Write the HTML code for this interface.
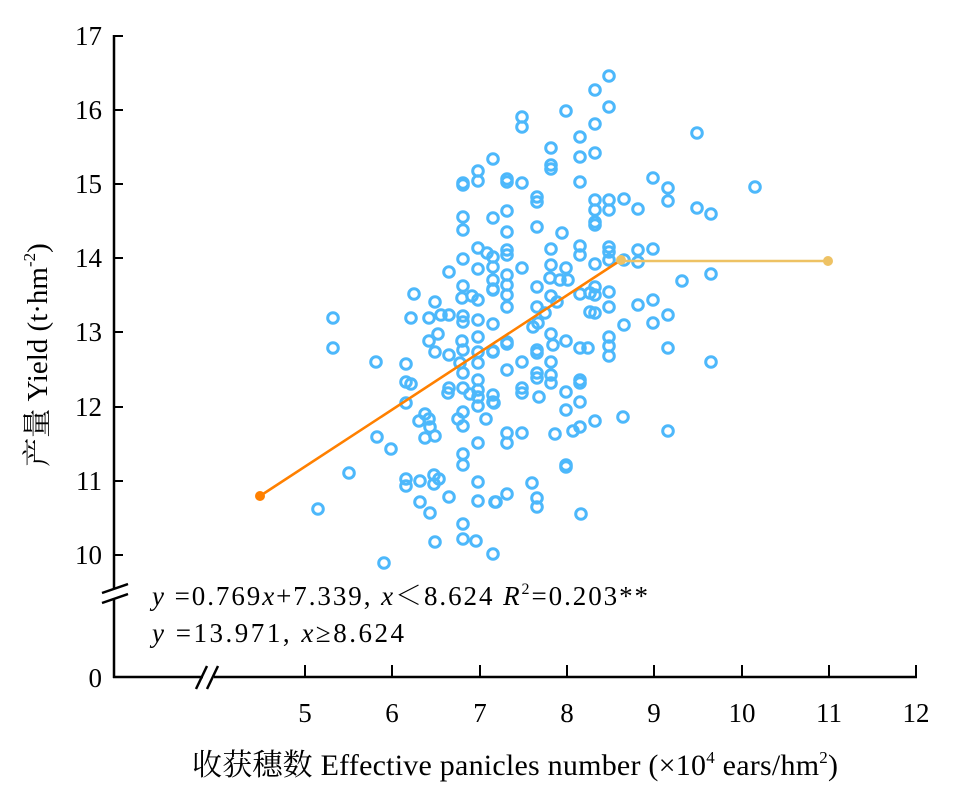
<!DOCTYPE html>
<html><head><meta charset="utf-8"><style>
html,body{margin:0;padding:0;background:#fff}
svg text{font-family:"Liberation Serif","Noto Serif CJK SC",serif;fill:#000}
</style></head><body>
<svg width="966" height="799" viewBox="0 0 966 799" xmlns="http://www.w3.org/2000/svg">
<g stroke="#000" stroke-width="2.5" fill="none">
<line x1="114" y1="35" x2="114" y2="589"/>
<line x1="114" y1="598" x2="114" y2="678"/>
<line x1="113" y1="677" x2="203" y2="677"/>
<line x1="214" y1="677" x2="917" y2="677"/>
<line x1="102" y1="593" x2="128" y2="584"/>
<line x1="102" y1="603" x2="128" y2="594"/>
<line x1="196" y1="689" x2="207" y2="666"/>
<line x1="207" y1="689" x2="218" y2="666"/>
</g>
<g stroke="#000" stroke-width="2">
<line x1="114" y1="36" x2="123" y2="36"/><line x1="114" y1="110" x2="123" y2="110"/>
<line x1="114" y1="184" x2="123" y2="184"/><line x1="114" y1="258" x2="123" y2="258"/>
<line x1="114" y1="332" x2="123" y2="332"/><line x1="114" y1="407" x2="123" y2="407"/>
<line x1="114" y1="481" x2="123" y2="481"/><line x1="114" y1="555" x2="123" y2="555"/>
<line x1="305" y1="677" x2="305" y2="665"/><line x1="392" y1="677" x2="392" y2="665"/>
<line x1="480" y1="677" x2="480" y2="665"/><line x1="567" y1="677" x2="567" y2="665"/>
<line x1="654" y1="677" x2="654" y2="665"/><line x1="742" y1="677" x2="742" y2="665"/>
<line x1="829" y1="677" x2="829" y2="665"/><line x1="916" y1="677" x2="916" y2="665"/>
</g>
<g font-size="27" text-anchor="end">
<text x="102" y="45">17</text><text x="102" y="119">16</text><text x="102" y="193">15</text>
<text x="102" y="267">14</text><text x="102" y="341">13</text><text x="102" y="416">12</text>
<text x="102" y="490">11</text><text x="102" y="564">10</text><text x="102" y="687">0</text>
</g>
<g font-size="27" text-anchor="middle">
<text x="305" y="722">5</text><text x="392" y="722">6</text><text x="480" y="722">7</text>
<text x="567" y="722">8</text><text x="654" y="722">9</text><text x="742" y="722">10</text>
<text x="829" y="722">11</text><text x="916" y="722">12</text>
</g>
<text x="192" y="775" font-size="30" textLength="646" lengthAdjust="spacing">收获穗数 Effective panicles number (×10<tspan font-size="17" dy="-12">4</tspan><tspan dy="12"> ears/hm</tspan><tspan font-size="17" dy="-12">2</tspan><tspan dy="12">)</tspan></text>
<text transform="translate(47,355) rotate(-90)" font-size="29" text-anchor="middle">产量 Yield (t·hm<tspan font-size="17" dy="-12">-2</tspan><tspan dy="12">)</tspan></text>
<text x="152" y="605" font-size="27" textLength="496" lengthAdjust="spacing"><tspan font-style="italic">y</tspan> =0.769<tspan font-style="italic">x</tspan>+7.339, <tspan font-style="italic">x</tspan>＜8.624  <tspan font-style="italic">R</tspan><tspan font-size="16" dy="-11">2</tspan><tspan dy="11">=0.203**</tspan></text>
<text x="152" y="642" font-size="27" textLength="252" lengthAdjust="spacing"><tspan font-style="italic">y</tspan> =13.971, <tspan font-style="italic">x</tspan>≥8.624</text>
<g id="pts" fill="none" stroke="#4db8fb" stroke-width="3"></g>
<line x1="260" y1="496" x2="621" y2="260" stroke="#ff8000" stroke-width="2.6"/>
<line x1="621" y1="261" x2="828" y2="261" stroke="#eec264" stroke-width="2.6"/>
<circle cx="260" cy="496" r="5" fill="#ff8000"/>
<circle cx="621" cy="260" r="5" fill="#eec264"/>
<circle cx="828" cy="261" r="5" fill="#eec264"/>
</svg>
<script>
var p=[[493,159],[478,171],[463,183],[463,185],[478,181],[463,217],[493,218],[463,230],[478,248],[487,253],[493,257],[493,267],[463,259],[449,272],[478,269],[493,280],[493,289],[414,294],[435,302],[463,286],[462,298],[472,296],[478,300],[333,318],[411,318],[429,318],[441,315],[449,315],[463,316],[463,322],[478,320],[493,324],[333,348],[438,334],[429,341],[435,352],[449,355],[462,341],[463,350],[478,337],[478,352],[493,352],[376,362],[406,364],[460,363],[463,373],[478,363],[406,382],[411,384],[449,388],[448,393],[463,388],[470,394],[478,380],[478,390],[478,397],[478,406],[493,395],[493,402],[406,403],[425,414],[429,419],[419,421],[430,427],[425,438],[435,436],[458,419],[463,412],[463,426],[486,419],[377,437],[391,449],[478,443],[463,454],[463,465],[349,473],[406,479],[406,486],[420,481],[434,475],[439,479],[434,484],[478,482],[449,497],[420,502],[430,513],[478,501],[495,502],[318,509],[463,524],[463,539],[476,541],[435,542],[493,554],[384,563],
[609,76],[595,90],[609,107],[566,111],[522,117],[522,127],[595,124],[580,137],[697,133],[551,148],[580,157],[595,153],[551,165],[551,169],[507,179],[507,182],[522,183],[580,182],[653,178],[668,188],[668,201],[755,187],[537,197],[537,202],[595,200],[595,210],[609,200],[609,210],[624,199],[638,209],[697,208],[711,214],[507,211],[595,222],[595,225],[537,227],[507,232],[562,233],[507,250],[507,255],[551,249],[580,246],[580,255],[609,247],[609,252],[609,260],[638,250],[653,249],[638,262],[624,260],[595,264],[522,268],[551,265],[566,268],[550,278],[560,280],[568,280],[493,290],[507,275],[507,285],[507,295],[507,307],[537,287],[551,296],[557,302],[580,294],[590,293],[595,287],[595,295],[609,292],[682,281],[711,274],[537,307],[545,313],[590,312],[595,313],[609,307],[638,305],[653,300],[653,323],[668,315],[624,325],[533,327],[538,323],[507,342],[507,344],[493,351],[551,334],[553,345],[566,341],[580,348],[588,348],[609,337],[609,346],[609,356],[668,348],[711,362],[507,370],[522,362],[537,353],[537,350],[551,362],[551,375],[551,383],[537,373],[537,378],[580,380],[580,383],[566,392],[494,403],[522,388],[522,393],[539,397],[580,402],[566,410],[507,433],[507,443],[522,433],[555,434],[573,431],[580,427],[595,421],[623,417],[668,431],[566,465],[566,467],[496,502],[507,494],[532,483],[537,498],[537,507],[581,514]];
var g=document.getElementById('pts'),s='';
p.forEach(function(q){s+='<circle cx="'+q[0]+'" cy="'+q[1]+'" r="5.3"/>';});
g.innerHTML=s;
</script>
</body></html>
